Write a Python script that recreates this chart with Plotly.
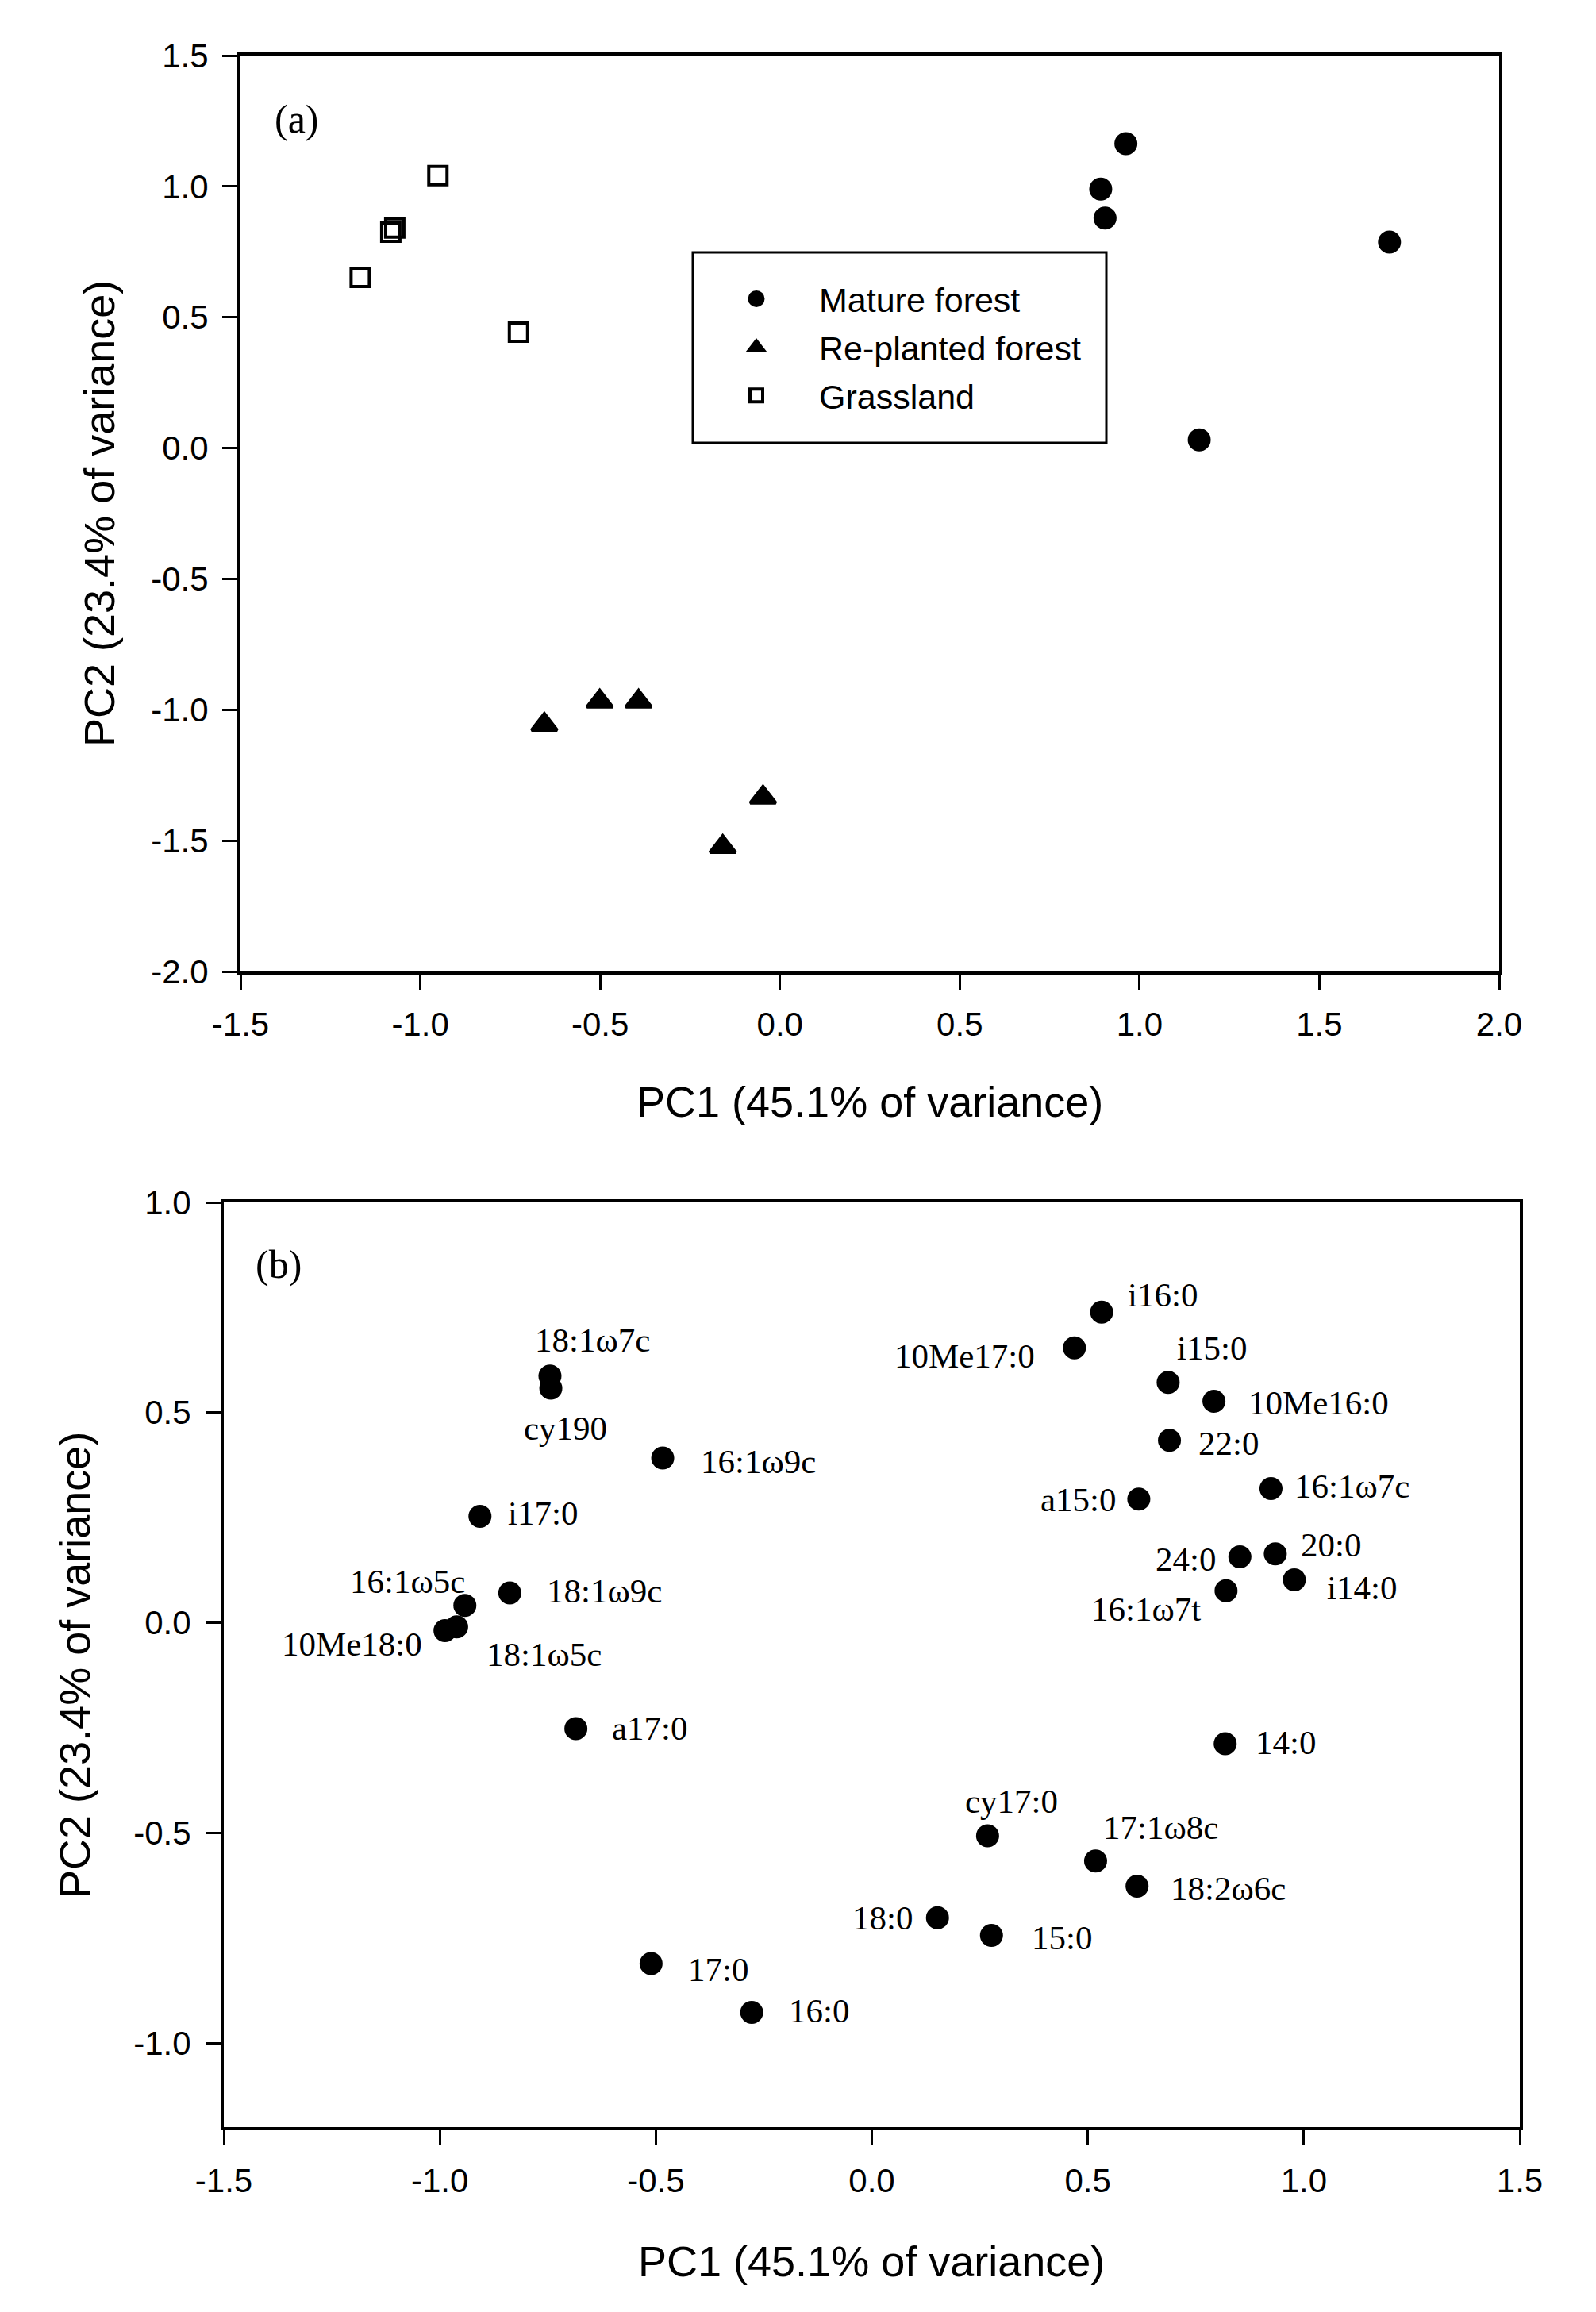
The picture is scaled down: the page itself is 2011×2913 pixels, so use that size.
import plotly.graph_objects as go

# ---- data, panel (a): site scores ----
mature_x = [0.962, 0.892, 0.904, 1.695, 1.166]
mature_y = [1.163, 0.990, 0.879, 0.787, 0.031]

replanted_x = [-0.655, -0.501, -0.393, -0.047, -0.159]
replanted_y = [-1.057, -0.968, -0.968, -1.335, -1.524]

grass_x = [-0.951, -1.071, -1.082, -1.167, -0.727]
grass_y = [1.041, 0.841, 0.825, 0.652, 0.443]

# ---- data, panel (b): PLFA loadings ----
plfa = ["18:1ω7c", "cy190", "16:1ω9c", "i17:0", "18:1ω9c", "16:1ω5c",
        "18:1ω5c", "10Me18:0", "a17:0", "17:0", "16:0", "18:0", "15:0",
        "cy17:0", "17:1ω8c", "18:2ω6c", "14:0", "i16:0", "10Me17:0",
        "i15:0", "10Me16:0", "22:0", "a15:0", "16:1ω7c", "20:0", "24:0",
        "i14:0", "16:1ω7t"]
pc1 = [-0.745, -0.743, -0.484, -0.907, -0.838, -0.942, -0.961, -0.988,
       -0.685, -0.511, -0.278, 0.152, 0.277, 0.268, 0.518, 0.614, 0.818,
       0.532, 0.469, 0.686, 0.792, 0.689, 0.618, 0.924, 0.934, 0.852,
       0.978, 0.820]
pc2 = [0.587, 0.558, 0.392, 0.253, 0.071, 0.041, -0.010, -0.019,
       -0.252, -0.811, -0.927, -0.702, -0.744, -0.507, -0.567, -0.627,
       -0.288, 0.739, 0.654, 0.572, 0.527, 0.434, 0.294, 0.319, 0.164,
       0.157, 0.102, 0.076]

ticks_a_x = [-1.5, -1.0, -0.5, 0.0, 0.5, 1.0, 1.5, 2.0]
ticks_a_y = [-2.0, -1.5, -1.0, -0.5, 0.0, 0.5, 1.0, 1.5]
ticks_b_x = [-1.5, -1.0, -0.5, 0.0, 0.5, 1.0, 1.5]
ticks_b_y = [-1.0, -0.5, 0.0, 0.5, 1.0]

# label placement for panel (b): anchor side, x shift, y shift (px)
label_pos = {
    "18:1ω7c": ("left", -21, 45), "cy190": ("left", -36, -50),
    "16:1ω9c": ("left", 46, -5), "i17:0": ("left", 33, 4),
    "18:1ω9c": ("left", 45, 2), "16:1ω5c": ("right", 2, 30),
    "18:1ω5c": ("left", 36, -35), "10Me18:0": ("right", -27, -17),
    "a17:0": ("left", 43, 0), "17:0": ("left", 45, -7),
    "16:0": ("left", 45, 2), "18:0": ("right", -29, 0),
    "15:0": ("left", 49, -3), "cy17:0": ("left", -30, 44),
    "17:1ω8c": ("left", 8, 42), "18:2ω6c": ("left", 40, -3),
    "14:0": ("left", 36, 2), "i16:0": ("left", 31, 22),
    "10Me17:0": ("right", -48, -10), "i15:0": ("left", 9, 43),
    "10Me16:0": ("left", 41, -2), "22:0": ("left", 34, -4),
    "a15:0": ("right", -26, -1), "16:1ω7c": ("left", 28, 3),
    "20:0": ("left", 30, 11), "24:0": ("right", -28, -3),
    "i14:0": ("left", 39, -10), "16:1ω7t": ("right", -30, -23),
}

W, H = 2011, 2913
OFF = 8  # page body margin in the browser
sans = "Liberation Sans, Arial"
serif = "Liberation Serif, Times New Roman"


def px(x):
    return (x - OFF) / W


def py(y):
    return 1 - (y - OFF) / H


fig = go.Figure()

# an outline of the same colour keeps the legend symbols large too
fig.add_trace(go.Scatter(x=mature_x, y=mature_y, mode='markers', name='Mature forest',
                         legendgroup='m',
                         marker=dict(symbol='circle', size=24, color='black',
                                     line=dict(width=5, color='black'))))
fig.add_trace(go.Scatter(x=replanted_x, y=replanted_y, mode='markers', name='Re-planted forest',
                         legendgroup='r',
                         marker=dict(symbol='triangle-up', size=28, color='black',
                                     line=dict(width=4, color='black'))))
fig.add_trace(go.Scatter(x=grass_x, y=grass_y, mode='markers', name='Grassland',
                         legendgroup='g',
                         marker=dict(symbol='square-open', size=23, color='black',
                                     line=dict(width=4, color='black'))))

fig.add_trace(go.Scatter(x=pc1, y=pc2, mode='markers', xaxis='x2', yaxis='y2',
                         showlegend=False,
                         marker=dict(symbol='circle', size=29, color='black')))

axis_style = dict(showgrid=False, zeroline=False, showline=True, linecolor='black',
                  linewidth=4, mirror=True, ticks='outside', ticklen=19, tickwidth=3,
                  tickcolor='black', automargin=False,
                  tickfont=dict(family=sans, size=42, color='black'))

fig.update_layout(
    template='none',
    width=W, height=H, autosize=False,
    margin=dict(l=0, r=0, t=0, b=0, pad=0, autoexpand=False),
    paper_bgcolor='white', plot_bgcolor='white',
    xaxis=dict(domain=[px(303), px(1889)], range=[-1.5, 2.0], anchor='y',
               tickvals=ticks_a_x, ticktext=[f"{v:.1f}" for v in ticks_a_x],
               ticklabelstandoff=8, **axis_style),
    yaxis=dict(domain=[py(1224), py(70)], range=[-2.0, 1.5], anchor='x',
               tickvals=ticks_a_y, ticktext=[f"{v:.1f}" for v in ticks_a_y],
               ticklabelstandoff=9, **axis_style),
    xaxis2=dict(domain=[px(282), px(1915)], range=[-1.5, 1.5], anchor='y2',
                tickvals=ticks_b_x, ticktext=[f"{v:.1f}" for v in ticks_b_x],
                ticklabelstandoff=9, **axis_style),
    yaxis2=dict(domain=[py(2680), py(1515)], range=[-1.2, 1.0], anchor='x2',
                tickvals=ticks_b_y, ticktext=[f"{v:.1f}" for v in ticks_b_y],
                ticklabelstandoff=10, **axis_style),
    legend=dict(x=px(874), y=py(342), xanchor='left', yanchor='top',
                bgcolor='rgba(0,0,0,0)', borderwidth=0, itemwidth=148,
                tracegroupgap=2, font=dict(family=sans, size=43, color='black')),
    showlegend=True,
)

# legend frame
fig.add_shape(type='rect', xref='paper', yref='paper',
              x0=px(873), x1=px(1394), y0=py(558), y1=py(318),
              line=dict(color='black', width=3))

# axis titles and panel letters
ann = [
    dict(text='PC1 (45.1% of variance)', x=px(1096), y=py(1388), textangle=0),
    dict(text='PC2 (23.4% of variance)', x=px(125), y=py(647), textangle=-90),
    dict(text='PC1 (45.1% of variance)', x=px(1098), y=py(2849), textangle=0),
    dict(text='PC2 (23.4% of variance)', x=px(94), y=py(2098), textangle=-90),
]
for a in ann:
    fig.add_annotation(xref='paper', yref='paper', showarrow=False,
                       xanchor='center', yanchor='middle',
                       font=dict(family=sans, size=54, color='black'), **a)

fig.add_annotation(text='(a)', xref='paper', yref='paper', x=px(344), y=py(150.5),
                   xanchor='left', yanchor='middle', showarrow=False,
                   font=dict(family=serif, size=50, color='black'))
fig.add_annotation(text='(b)', xref='paper', yref='paper', x=px(320), y=py(1593),
                   xanchor='left', yanchor='middle', showarrow=False,
                   font=dict(family=serif, size=50, color='black'))

# PLFA labels
for name, xv, yv in zip(plfa, pc1, pc2):
    side, dx, dy = label_pos[name]
    fig.add_annotation(text=name, x=xv, y=yv, xref='x2', yref='y2', showarrow=False,
                       xanchor=side, yanchor='middle', xshift=dx, yshift=dy,
                       font=dict(family=serif, size=43, color='black'))

fig.write_html("out.html")
